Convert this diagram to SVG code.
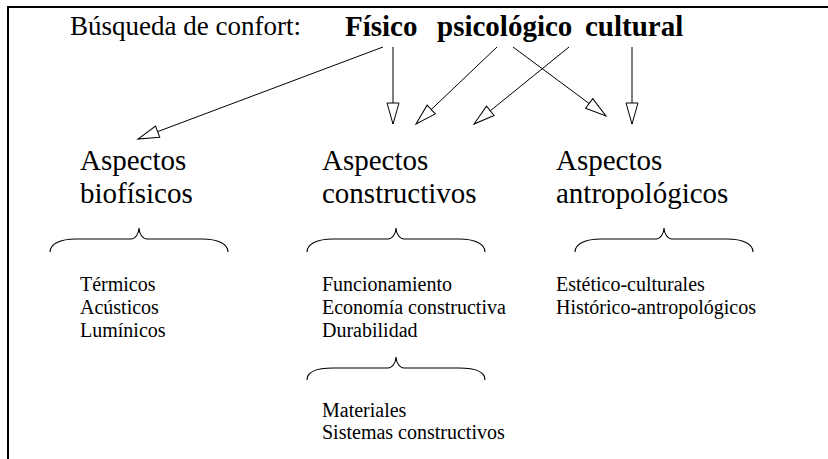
<svg xmlns="http://www.w3.org/2000/svg" width="828" height="459" viewBox="0 0 828 459">
<style>
text{font-family:"Liberation Serif","Times New Roman",serif;fill:#000}
.title{font-size:27px}
.b{font-weight:bold;font-size:29px}
.head{font-size:29px}
.item{font-size:20px}
.conn line{stroke:#000;stroke-width:1;fill:none}
.brace{stroke:#000;stroke-width:1.1;fill:none}
</style>
<defs>
<marker id="ah" markerUnits="userSpaceOnUse" markerWidth="24" markerHeight="14" refX="21" refY="6" orient="auto" overflow="visible">
<path d="M0,0 L21,6 L0,12 Z" fill="#fff" stroke="#000" stroke-width="1"/>
</marker>
</defs>
<rect width="828" height="459" fill="#fff"/>
<path d="M8,459 L8,7 L828,7" fill="none" stroke="#000" stroke-width="2"/>
<g id="title">
<text class="title" x="70" y="35">Búsqueda de confort:</text>
<text class="b" x="345" y="36">Físico</text>
<text class="b" x="437" y="36">psicológico</text>
<text class="b" x="585" y="36">cultural</text>
</g>
<g class="conn" id="connectors">
<line x1="383" y1="47" x2="138" y2="139" marker-end="url(#ah)"/>
<line x1="393" y1="47" x2="393" y2="124" marker-end="url(#ah)"/>
<line x1="497" y1="47" x2="416" y2="124" marker-end="url(#ah)"/>
<line x1="513" y1="47" x2="606" y2="116" marker-end="url(#ah)"/>
<line x1="569" y1="47" x2="474" y2="124" marker-end="url(#ah)"/>
<line x1="632" y1="47" x2="632" y2="124" marker-end="url(#ah)"/>
</g>
<g id="biofisicos">
<text class="head" x="80" y="170">Aspectos</text>
<text class="head" x="80" y="203">biofísicos</text>
<path class="brace" d="M50,252 C50,244 60,239 76,239 L131,239 C135,239 139,234 139,228 C139,234 143,239 147,239 L202,239 C218,239 228,244 228,252"/>
<text class="item" x="80" y="291">Térmicos</text>
<text class="item" x="80" y="314">Acústicos</text>
<text class="item" x="80" y="337">Lumínicos</text>
</g>
<g id="constructivos">
<text class="head" x="322" y="170">Aspectos</text>
<text class="head" x="322" y="203">constructivos</text>
<path class="brace" d="M307,252 C307,244 317,239 333,239 L388,239 C392,239 396,234 396,228 C396,234 400,239 404,239 L459,239 C475,239 485,244 485,252"/>
<text class="item" x="322" y="291">Funcionamiento</text>
<text class="item" x="322" y="314">Economía constructiva</text>
<text class="item" x="322" y="337">Durabilidad</text>
</g>
<g id="sub-constructivos">
<path class="brace" d="M307,380 C307,372 317,368 333,368 L388,368 C392,368 396,363 396,357 C396,363 400,368 404,368 L459,368 C475,368 485,372 485,380"/>
<text class="item" x="322" y="417">Materiales</text>
<text class="item" x="322" y="439">Sistemas constructivos</text>
</g>
<g id="antropologicos">
<text class="head" x="556" y="170">Aspectos</text>
<text class="head" x="556" y="203">antropológicos</text>
<path class="brace" d="M575,252 C575,244 585,239 601,239 L656,239 C660,239 664,234 664,228 C664,234 668,239 672,239 L727,239 C743,239 753,244 753,252"/>
<text class="item" x="556" y="291">Estético-culturales</text>
<text class="item" x="556" y="314">Histórico-antropológicos</text>
</g>
</svg>
